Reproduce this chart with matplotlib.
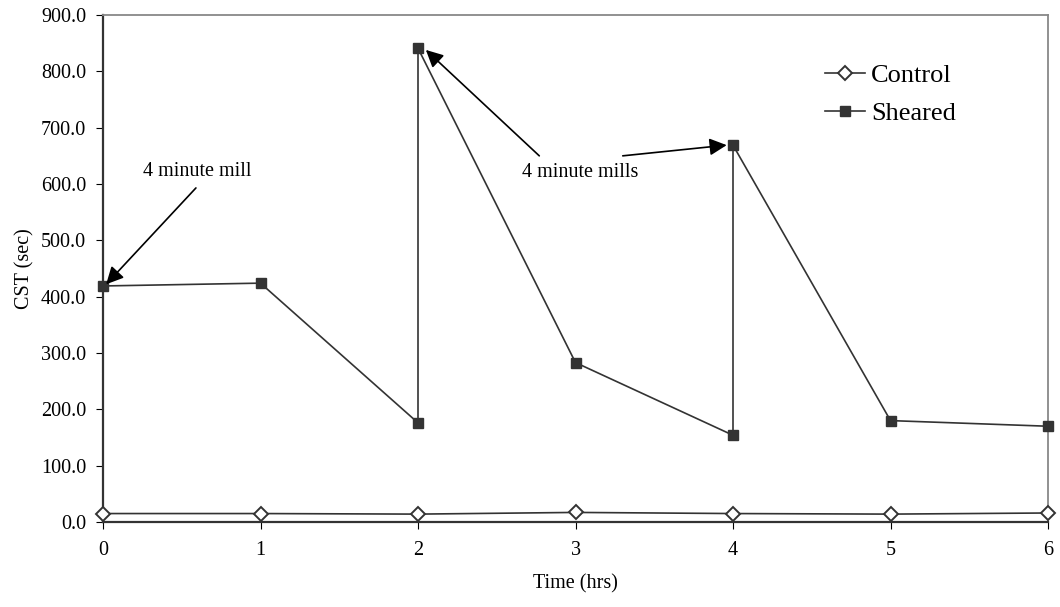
import matplotlib.pyplot as plt

plt.rcParams['font.family'] = ['Liberation Serif', 'DejaVu Serif']

# data
time_hrs = [0, 1, 2, 3, 4, 5, 6]
control = [15, 15, 14, 17, 15, 14, 16]
sheared_x = [0, 1, 2, 2, 3, 4, 4, 5, 6]
sheared_y = [419, 424, 176, 841, 283, 154, 669, 180, 170]

fig = plt.figure(figsize=(10.6, 6.07), dpi=100)
# plot area in pixels: left 103, right 1048, top 15, bottom 522
ax = fig.add_axes([103 / 1060, 1 - 522 / 607, 945 / 1060, 507 / 607])

line_col = '#333333'
ax.plot(time_hrs, control, color=line_col, lw=1.2, marker='D', ms=7,
        mfc='white', mec=line_col, mew=1.4, label='Control', clip_on=False, zorder=3)
ax.plot(sheared_x, sheared_y, color=line_col, lw=1.2, marker='s', ms=7.5,
        mfc=line_col, mec=line_col, label='Sheared', clip_on=False, zorder=3)

ax.set_xlim(0, 6)
ax.set_ylim(0, 900)
ax.set_yticks(range(0, 901, 100))
ax.set_yticklabels([f'{v:.1f}' for v in range(0, 901, 100)])
ax.set_xticks(time_hrs)
ax.tick_params(axis='both', labelsize=14.5, direction='out', length=5, color='black')
ax.tick_params(axis='y', pad=7)
ax.tick_params(axis='x', pad=9)
ax.set_xlabel('Time (hrs)', fontsize=14.5, labelpad=10)
ax.set_ylabel('CST (sec)', fontsize=14.5, labelpad=5)

for s in ['top', 'right']:
    ax.spines[s].set_color('#888888')
    ax.spines[s].set_linewidth(1.3)
for s in ['left', 'bottom']:
    ax.spines[s].set_color('#333333')
    ax.spines[s].set_linewidth(1.6)

arrow = dict(arrowstyle='-|>', color='black', lw=1.2, mutation_scale=26)
ax.text(0.60, 623, '4 minute mill', fontsize=14.5, ha='center', va='center')
ax.annotate('', xy=(0.02, 422), xytext=(0.59, 593), arrowprops=dict(arrow, shrinkA=0, shrinkB=0))
ax.text(3.03, 620, '4 minute mills', fontsize=14.5, ha='center', va='center')
ax.annotate('', xy=(2.05, 838), xytext=(2.77, 650), arrowprops=dict(arrow, shrinkA=0, shrinkB=0))
ax.annotate('', xy=(3.96, 669), xytext=(3.30, 650), arrowprops=dict(arrow, shrinkA=0, shrinkB=0))

ax.legend(loc='upper left', bbox_to_anchor=(0.75, 0.93), frameon=False,
          fontsize=19, handlelength=1.5, handletextpad=0.25, labelspacing=0.55,
          borderpad=0)

fig.savefig('out.png')
